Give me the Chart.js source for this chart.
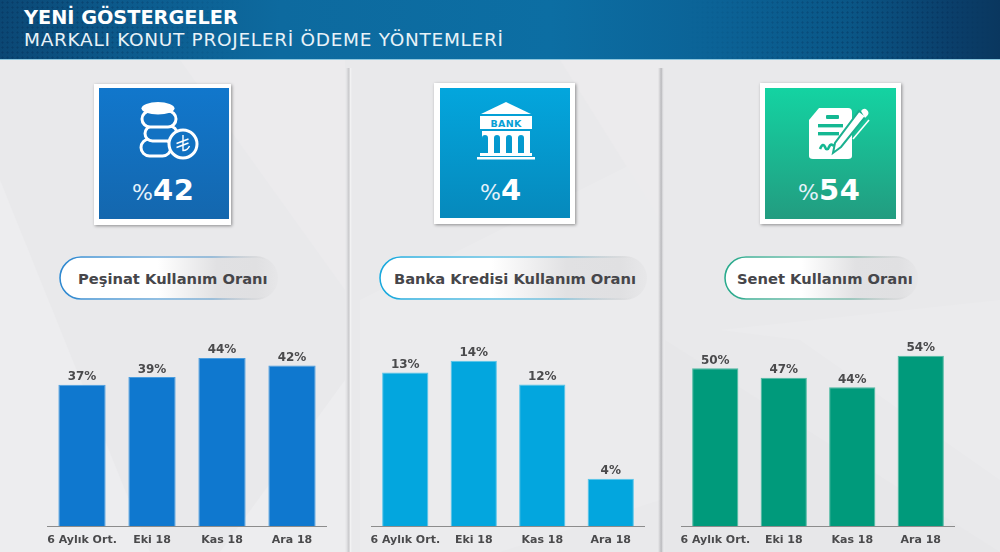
<!DOCTYPE html>
<html lang="tr">
<head>
<meta charset="utf-8">
<title>Yeni Göstergeler</title>
<script src="https://cdn.jsdelivr.net/npm/chart.js@4"></script>
<style>
html,body{margin:0;padding:0;width:1000px;height:552px;overflow:hidden;background:#e9e9eb;font-family:"DejaVu Sans",sans-serif}
#bg{position:absolute;left:0;top:60px;width:1000px;height:492px}
#hdr{position:absolute;left:0;top:0;width:1000px;height:59px;border-bottom:1px solid #8fc7de;
background:linear-gradient(90deg,#0b4774 0,#0c5a8c 12%,#0d6a9f 28%,#0c6ea3 55%,#0b6296 72%,#0a5686 85%,#0a3f6b 95%,#0a375f 100%)}
.dots{position:absolute;top:0;height:59px;background-image:radial-gradient(circle,rgba(5,40,80,.32) 0.9px,transparent 1.3px);background-size:5px 5px}
#d1{left:0;width:240px;-webkit-mask-image:linear-gradient(90deg,#000 40%,transparent);mask-image:linear-gradient(90deg,#000 40%,transparent)}
#d2{left:690px;width:300px;-webkit-mask-image:linear-gradient(90deg,transparent,#000 50%,#000 85%,transparent);mask-image:linear-gradient(90deg,transparent,#000 50%,#000 85%,transparent)}
#t1,#t2{position:absolute;left:24px;color:#fff;white-space:nowrap}
#t1{top:7px;font-size:19.3px;font-weight:700;line-height:22px}
#t2{top:29px;font-size:18.5px;line-height:22px;color:#e8f2f8;letter-spacing:.7px}
.sep{position:absolute;top:68px;width:6px;height:484px}
.card{position:absolute;background:#fff;box-shadow:1px 1px 3px rgba(0,0,0,.4)}
.inner{position:absolute}
.kpi{position:absolute;color:#fff;white-space:nowrap;line-height:34px;height:34px}
.kpi .p{font-size:22px;font-weight:400;color:#e4f1fa}
.kpi .n{font-size:29px;font-weight:700;letter-spacing:.6px}
.icon{position:absolute;overflow:visible}
.pill{position:absolute;top:256px;height:44px;box-sizing:border-box;border-radius:22px;overflow:hidden}
.pilltxt{position:absolute;top:269px;font-size:14.7px;font-weight:700;color:#46464a;line-height:20px;white-space:nowrap}
canvas{position:absolute;top:340px;height:212px}
</style>
</head>
<body>
<svg id="bg" viewBox="0 60 1000 492" preserveAspectRatio="none">
  <rect x="0" y="60" width="1000" height="492" fill="#e9e9eb"/>
  <polygon points="180,60 345,60 345,290" fill="#ecebed"/>
  <polygon points="220,552 345,380 345,552" fill="#ededef"/>
  <polygon points="0,180 150,552 0,552" fill="#ededef"/>
  <polygon points="360,300 660,150 660,500 500,552 360,552" fill="#ebebed"/>
  <polygon points="560,60 660,60 660,220" fill="#ecebed"/>
  <polygon points="665,340 1000,552 665,552" fill="#e7e7e9"/>
  <polygon points="720,330 800,340 1000,480 1000,300" fill="#ebebed"/>
</svg>
<div class="sep" style="left:346px;background:linear-gradient(90deg,rgba(120,120,125,0),rgba(120,120,125,.3) 50%,rgba(255,255,255,.5) 70%,rgba(255,255,255,0))"></div>
<div class="sep" style="left:658px;background:linear-gradient(90deg,rgba(120,120,125,0),rgba(120,120,125,.4) 55%,rgba(150,150,155,.12) 80%,rgba(255,255,255,0))"></div>

<div id="hdr"><div class="dots" id="d1"></div><div class="dots" id="d2"></div></div>
<div id="t1">YENİ GÖSTERGELER</div>
<div id="t2">MARKALI KONUT PROJELERİ ÖDEME YÖNTEMLERİ</div>

<!-- Card 1 -->
<div class="card" style="left:94px;top:84px;width:137px;height:141px"></div>
<div class="inner" style="left:99px;top:88px;width:130px;height:131px;background:linear-gradient(180deg,#1177cc,#1467ae)"></div>
<svg class="icon" style="left:139px;top:100px" width="60" height="60" viewBox="0 0 60 60" fill="#1272c2" stroke="#fff" stroke-width="3">
  <rect x="2" y="39" width="30" height="17" rx="8.5"/>
  <rect x="6" y="26" width="32" height="15" rx="7.5"/>
  <rect x="3" y="11" width="34" height="16" rx="8"/>
  <ellipse cx="19" cy="8.3" rx="16.5" ry="6.2" fill="#fff" stroke="none"/>
  <circle cx="44" cy="44" r="14" stroke-width="3"/>
  <path d="M44 35v15.500c3.500 0 5.500-2 6.500-4.500M37.500 43.500l12-4.500M37.500 47.500l12-4.500" stroke-width="1.400" fill="none"/>
</svg>
<div class="kpi" style="left:132px;top:173px"><span class="p">%</span><span class="n">42</span></div>

<!-- Card 2 -->
<div class="card" style="left:434px;top:83px;width:141px;height:141px"></div>
<div class="inner" style="left:440px;top:88px;width:130px;height:130px;background:linear-gradient(180deg,#03a6dd,#0689bc)"></div>
<svg class="icon" style="left:477px;top:102px" width="58" height="58" viewBox="0 0 58 58" fill="#fff">
  <polygon points="29,0 54,12 4,12"/>
  <rect x="3" y="14" width="52" height="13"/>
  <text x="29" y="25" text-anchor="middle" font-family="DejaVu Sans" font-weight="700" font-size="9.5" fill="#07a0d5" letter-spacing=".3">BANK</text>
  <path d="M5 29h48v22H47V36a3 3 0 0 0-6 0V51H35V36a3 3 0 0 0-6 0V51H23V36a3 3 0 0 0-6 0V51H11V36a3 3 0 0 0-6 0z" fill="#fff"/>
  <rect x="3" y="51" width="52" height="3"/>
  <rect x="0" y="55" width="58" height="2.500"/>
</svg>
<div class="kpi" style="left:480px;top:173px"><span class="p">%</span><span class="n">4</span></div>

<!-- Card 3 -->
<div class="card" style="left:760px;top:83px;width:141px;height:141px"></div>
<div class="inner" style="left:765px;top:88px;width:131px;height:131px;background:linear-gradient(180deg,#14d3a2,#229c80)"></div>
<svg class="icon" style="left:809px;top:107px" width="60" height="52" viewBox="0 0 60 52">
  <path d="M10 1H39q4 0 4 4V49q0 3-4 3H4q-4 0-4-3V13z" fill="#fff"/>
  <rect x="17" y="8" width="13" height="4" rx="1" fill="#14b892"/>
  <rect x="9" y="17" width="25" height="3.400" fill="#14b892"/>
  <rect x="9" y="25" width="21" height="3.400" fill="#14b892"/>
  <path d="M11 42c2-5 4-5 5-2s3 3 4 0 3-3 5-1" fill="none" stroke="#14b892" stroke-width="2.600"/>
  <path d="M50 4l7 5L32 40l-8 6 2-10z" fill="#fff" stroke="#1bb08f" stroke-width="2"/>
  <path d="M52 4q3-4 6-1t0 6l-2 2z" fill="#fff"/>
  <path d="M60 13L44 32" stroke="#fff" stroke-width="1.600"/>
</svg>
<div class="kpi" style="left:798px;top:173px"><span class="p">%</span><span class="n">54</span></div>

<!-- Pills -->
<div class="pill" style="left:59px;width:219px;background:linear-gradient(90deg,#fff 0,#fff 45%,#e1e1e3 72%,#e0e0e2 90%,rgba(228,228,230,.5) 100%)"></div>
<svg class="icon" style="left:59px;top:256px" width="219" height="44" fill="none"><defs><linearGradient id="g1"><stop offset="0" stop-color="#2f88cf"/><stop offset=".7" stop-color="#5a9ccf" stop-opacity=".7"/><stop offset=".95" stop-color="#aaa" stop-opacity="0"/></linearGradient></defs><rect x="1" y="1" width="217" height="42" rx="21" stroke="url(#g1)" stroke-width="1.600"/></svg>
<div class="pilltxt" style="left:78px">Peşinat Kullanım Oranı</div>

<div class="pill" style="left:379px;width:268px;background:linear-gradient(90deg,#fff 0,#fff 42%,#e1e1e3 70%,#e0e0e2 90%,rgba(228,228,230,.5) 100%)"></div>
<svg class="icon" style="left:379px;top:256px" width="268" height="44" fill="none"><defs><linearGradient id="g2"><stop offset="0" stop-color="#1aa8dc"/><stop offset=".68" stop-color="#50b4da" stop-opacity=".7"/><stop offset=".95" stop-color="#aaa" stop-opacity="0"/></linearGradient></defs><rect x="1" y="1" width="266" height="42" rx="21" stroke="url(#g2)" stroke-width="1.600"/></svg>
<div class="pilltxt" style="left:394px">Banka Kredisi Kullanım Oranı</div>

<div class="pill" style="left:724px;width:194px;background:linear-gradient(90deg,#fff 0,#fff 40%,#e1e1e3 68%,#e0e0e2 90%,rgba(228,228,230,.5) 100%)"></div>
<svg class="icon" style="left:724px;top:256px" width="194" height="44" fill="none"><defs><linearGradient id="g3"><stop offset="0" stop-color="#2aa98c"/><stop offset=".66" stop-color="#5fae9b" stop-opacity=".7"/><stop offset=".95" stop-color="#aaa" stop-opacity="0"/></linearGradient></defs><rect x="1" y="1" width="192" height="42" rx="21" stroke="url(#g3)" stroke-width="1.600"/></svg>
<div class="pilltxt" style="left:737px">Senet Kullanım Oranı</div>

<canvas id="c1" width="280" height="212" style="left:47px;width:280px"></canvas>
<canvas id="c2" width="274" height="212" style="left:371px;width:274px"></canvas>
<canvas id="c3" width="274" height="212" style="left:681px;width:274px"></canvas>

<script>
const categories = ["6 Aylık Ort.", "Eki 18", "Kas 18", "Ara 18"];
const pesinat = [37, 39, 44, 42];
const bankaKredisi = [13, 14, 12, 4];
const senet = [50, 47, 44, 54];

const valueLabels = {
  id: "valueLabels",
  afterDatasetsDraw(chart) {
    const ctx = chart.ctx;
    const meta = chart.getDatasetMeta(0);
    ctx.save();
    ctx.font = "700 12px 'DejaVu Sans'";
    ctx.fillStyle = "#4a4a4c";
    ctx.textAlign = "center";
    ctx.textBaseline = "alphabetic";
    meta.data.forEach((bar, i) => {
      ctx.fillText(chart.data.datasets[0].data[i] + "%", bar.x, bar.y - 4.5);
    });
    ctx.restore();
  }
};

function makeChart(id, values, color, edge, yMax) {
  new Chart(document.getElementById(id), {
    type: "bar",
    data: {
      labels: categories,
      datasets: [{
        data: values,
        backgroundColor: color,
        borderColor: edge,
        borderWidth: 1,
        barPercentage: 0.675,
        categoryPercentage: 1
      }]
    },
    options: {
      responsive: false,
      animation: false,
      devicePixelRatio: 1,
      layout: { padding: 0 },
      plugins: { legend: { display: false }, tooltip: { enabled: false } },
      scales: {
        y: { display: false, min: 0, max: yMax },
        x: {
          afterFit(scale) { scale.height = 26; scale.paddingLeft = 0; scale.paddingRight = 0; },
          grid: { display: false, drawTicks: false },
          border: { display: true, color: "#8c8c8c", width: 1 },
          ticks: {
            color: "#4a4a4c",
            font: { family: "DejaVu Sans", size: 11, weight: "700" },
            padding: 8,
            maxRotation: 0,
            minRotation: 0,
            autoSkip: false
          }
        }
      }
    },
    plugins: [valueLabels]
  });
}

makeChart("c1", pesinat, "#0f78cf", "#4a9ddf", 48.7);
makeChart("c2", bankaKredisi, "#03a6de", "#55c5ea", 15.76);
makeChart("c3", senet, "#009a7b", "#4db9a2", 59);
</script>
</body>
</html>
